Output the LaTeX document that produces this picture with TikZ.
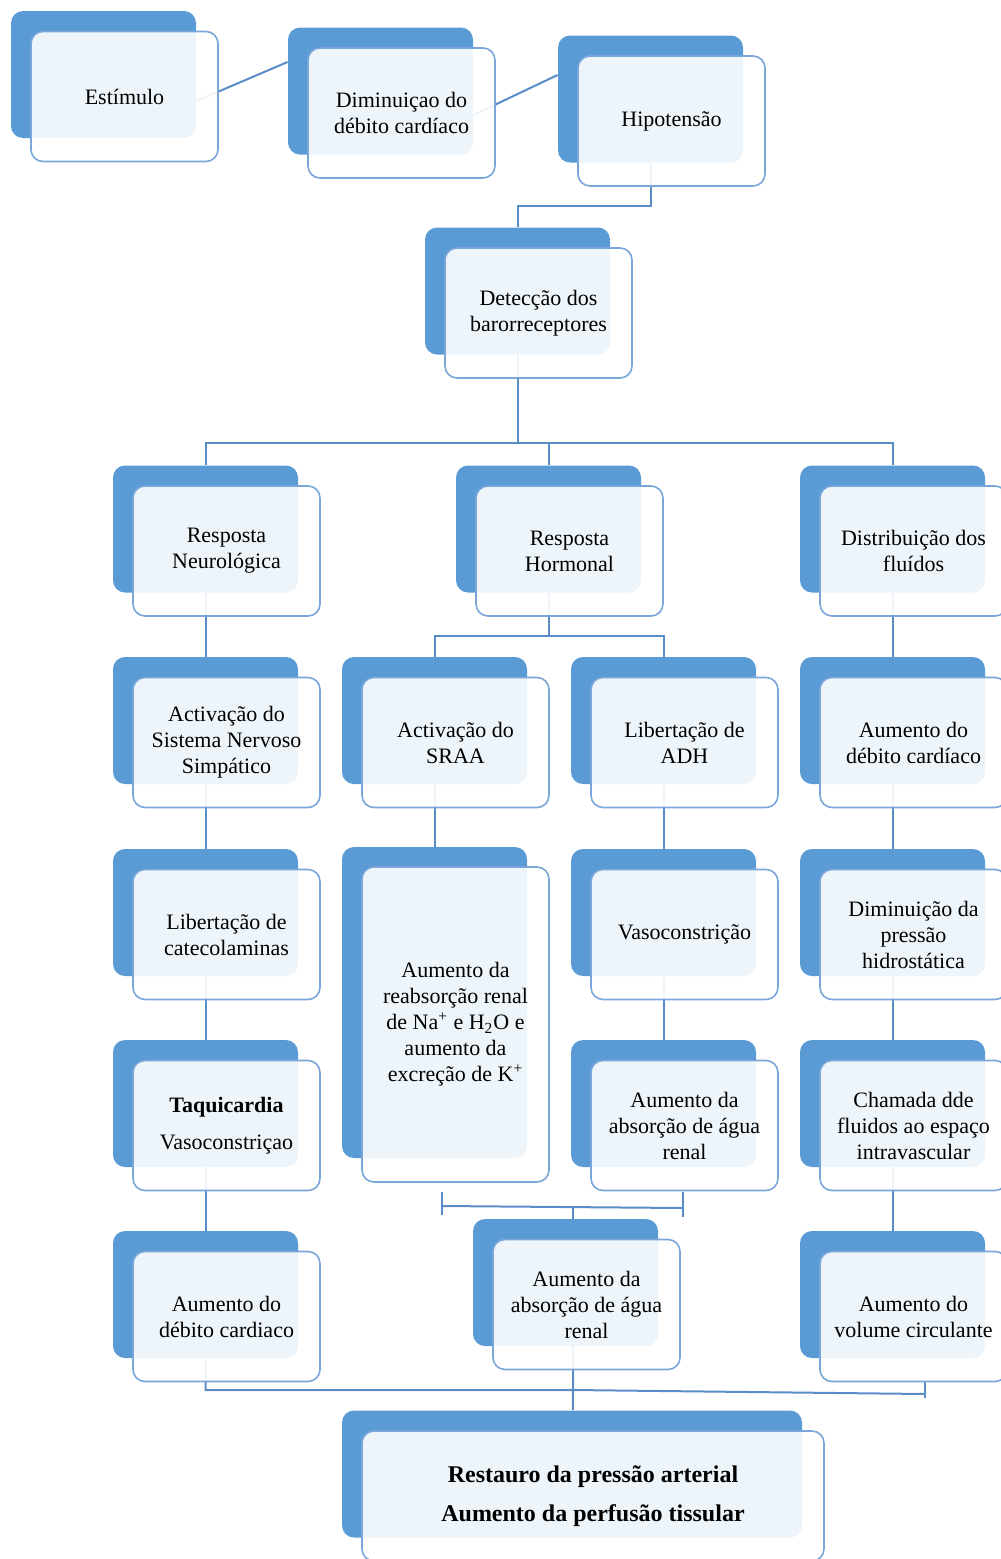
\documentclass[tikz,border=0pt]{standalone}
\usepackage{fontspec}
\setmainfont{Liberation Serif}
\usepackage{tikz}
\usetikzlibrary{positioning,backgrounds}
\definecolor{boxblue}{HTML}{5B9BD5}
\definecolor{edgeblue}{HTML}{7AA6DA}
\definecolor{lineblue}{HTML}{5A8CC8}
\tikzset{backnode/.style={rectangle, rounded corners=6pt, fill=boxblue, minimum width=92.5pt, minimum height=63.5pt},
frontnode/.style={rectangle, rounded corners=6pt, draw=edgeblue, line width=0.8pt, fill=white, fill opacity=0.9, text opacity=1, minimum width=93.5pt, minimum height=65pt, align=center, font=\fontsize{11}{13}\selectfont},
link/.style={draw=lineblue, line width=1pt},}

\begin{document}
\begin{tikzpicture}[x=0.5pt, y=-0.5pt]
\useasboundingbox (0,0) rectangle (1001,1559);
% top row
\node [backnode] (estB) at (103.5,74.5) {};
\node [frontnode] (est) at ([shift={(21,22)}]estB) {Estímulo};
\node [backnode] (dimB) at (380.5,91) {};
\node [frontnode] (dim) at ([shift={(21,22)}]dimB) {Diminuiçao do\\débito cardíaco};
\node [backnode] (hipoB) at (650.5,99) {};
\node [frontnode] (hipo) at ([shift={(21,22)}]hipoB) {Hipotensão};
\node [backnode] (detB) at (517.5,291) {};
\node [frontnode] (det) at ([shift={(21,22)}]detB) {Detecção dos\\barorreceptores};
% three branches
\node [backnode] (neuB) at (205.5,529) {};
\node [frontnode] (neu) at ([shift={(21,22)}]neuB) {Resposta\\Neurológica};
\node [backnode] (horB) at (548.5,529) {};
\node [frontnode] (hor) at ([shift={(21,22)}]horB) {Resposta\\Hormonal};
\node [backnode] (disB) at (892.5,529) {};
\node [frontnode] (dis) at ([shift={(21,22)}]disB) {Distribuição dos\\fluídos};
% row 3
\node [backnode] (snsB) at (205.5,720.5) {};
\node [frontnode] (sns) at ([shift={(21,22)}]snsB) {Activação do\\Sistema Nervoso\\Simpático};
\node [backnode] (sraaB) at (434.5,720.5) {};
\node [frontnode] (sraa) at ([shift={(21,22)}]sraaB) {Activação do\\SRAA};
\node [backnode] (adhB) at (663.5,720.5) {};
\node [frontnode] (adh) at ([shift={(21,22)}]adhB) {Libertação de\\ADH};
\node [backnode] (debB) at (892.5,720.5) {};
\node [frontnode] (deb) at ([shift={(21,22)}]debB) {Aumento do\\débito cardíaco};
% row 4
\node [backnode] (catB) at (205.5,912.5) {};
\node [frontnode] (cat) at ([shift={(21,22)}]catB) {Libertação de\\catecolaminas};
\node [backnode, minimum height=155.5pt] (reabB) at (434.5,1002.5) {};
\node [frontnode, minimum height=157.5pt] (reab) at ([shift={(21,22)}]reabB) {Aumento da\\reabsorção renal\\de Na\textsuperscript{+} e H\textsubscript{2}O e\\aumento da\\excreção de K\textsuperscript{+}};
\node [backnode] (vasoB) at (663.5,912.5) {};
\node [frontnode] (vaso) at ([shift={(21,22)}]vasoB) {Vasoconstrição};
\node [backnode] (hidB) at (892.5,912.5) {};
\node [frontnode] (hid) at ([shift={(21,22)}]hidB) {Diminuição da\\pressão\\hidrostática};
% row 5
\node [backnode] (taqB) at (205.5,1103.5) {};
\node [frontnode] (taq) at ([shift={(21,22)}]taqB) {\textbf{Taquicardia}\\[5.5pt]Vasoconstriçao};
\node [backnode] (absAB) at (663.5,1103.5) {};
\node [frontnode] (absA) at ([shift={(21,22)}]absAB) {Aumento da\\absorção de água\\renal};
\node [backnode] (chamB) at (892.5,1103.5) {};
\node [frontnode] (cham) at ([shift={(21,22)}]chamB) {Chamada dde\\fluidos ao espaço\\intravascular};
% row 6
\node [backnode] (debFB) at (205.5,1294.5) {};
\node [frontnode] (debF) at ([shift={(21,22)}]debFB) {Aumento do\\débito cardiaco};
\node [backnode] (absBB) at (565.5,1282.5) {};
\node [frontnode] (absB) at ([shift={(21,22)}]absBB) {Aumento da\\absorção de água\\renal};
\node [backnode] (volB) at (892.5,1294.5) {};
\node [frontnode] (vol) at ([shift={(21,22)}]volB) {Aumento do\\volume circulante};
% result
\node [backnode, minimum width=230pt] (resB) at (572,1474) {};
\node [frontnode, minimum width=231pt, font=\fontsize{12}{19.5}\selectfont\bfseries] (res) at ([shift={(21,22)}]resB) {Restauro da pressão arterial\\Aumento da perfusão tissular};

\coordinate (brL) at (442,1206);
\coordinate (brR) at (683,1208);
\coordinate (bus3) at (573,1390);
\coordinate (volT) at (925,1394);

\begin{scope}[on background layer]
\draw[link] ([yshift=-13.25pt]estB.east) -- ([yshift=14.5pt]dimB.west);
\draw[link] ([yshift=-12pt]dimB.east) -- ([yshift=12pt]hipoB.west);
\draw[link] (hipoB) -- ++(0,107) -| (detB);
\draw[link] (detB) -- ++(0,152) coordinate (bus1);
\draw[link] (neuB) |- (bus1) -| (disB);
\draw[link] (horB) -- (horB |- bus1);
\draw[link] (horB) -- ++(0,107) coordinate (bus2);
\draw[link] (sraaB) |- (bus2) -| (adhB);
\draw[link] (neuB) -- (snsB) -- (catB) -- (taqB) -- (debFB);
\draw[link] (sraaB) -- (reabB);
\draw[link] (adhB) -- (vasoB) -- (absAB);
\draw[link] (disB) -- (debB) -- (hidB) -- (chamB) -- (volB);
\draw[link] (brL) ++(0,-14) -- ++(0,23);
\draw[link] (brR) ++(0,-16) -- ++(0,25);
\draw[link] (brL) -- (brR);
\draw[link] (brL -| bus3) -- (absBB.north -| bus3);
\draw[link] (debFB) |- (bus3) -- (volT);
\draw[link] (volT) ++(0,-13) -- ++(0,17);
\draw[link] (absBB -| bus3) -- (bus3) -- (resB);
\end{scope}
\end{tikzpicture}
\end{document}
